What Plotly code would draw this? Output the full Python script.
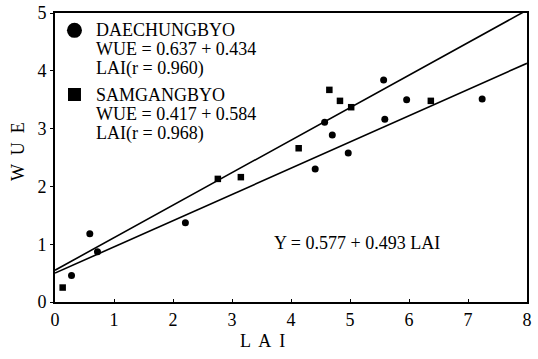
import plotly.graph_objects as go

# Data
dae_lai = [0.28, 0.59, 0.72, 2.21, 4.41, 4.57, 4.70, 4.97, 5.57, 5.59, 5.96, 7.24]
dae_wue = [0.46, 1.18, 0.87, 1.37, 2.30, 3.11, 2.89, 2.58, 3.84, 3.16, 3.50, 3.51]
sam_lai = [0.13, 2.76, 3.15, 4.13, 4.65, 4.83, 5.02, 6.37]
sam_wue = [0.25, 2.13, 2.16, 2.66, 3.67, 3.48, 3.37, 3.48]

line_x = [0, 8]
upper_line_y = [0.55, 5.05]
lower_line_y = [0.50, 4.13]

x_ticks = [0, 1, 2, 3, 4, 5, 6, 7, 8]
y_ticks = [0, 1, 2, 3, 4, 5]

FONT = "Liberation Serif"

fig = go.Figure()
fig.add_trace(go.Scatter(x=line_x, y=upper_line_y, mode="lines",
                         line=dict(color="black", width=1.6), showlegend=False))
fig.add_trace(go.Scatter(x=line_x, y=lower_line_y, mode="lines",
                         line=dict(color="black", width=1.6), showlegend=False))
fig.add_trace(go.Scatter(x=dae_lai, y=dae_wue, mode="markers",
                         marker=dict(symbol="circle", size=7, color="black"),
                         showlegend=False))
fig.add_trace(go.Scatter(x=sam_lai, y=sam_wue, mode="markers",
                         marker=dict(symbol="square", size=6.5, color="black"),
                         showlegend=False))

# legend symbols
fig.add_trace(go.Scatter(x=[0.33], y=[4.70], mode="markers",
                         marker=dict(symbol="circle", size=15, color="black"),
                         showlegend=False))
fig.add_trace(go.Scatter(x=[0.33], y=[3.59], mode="markers",
                         marker=dict(symbol="square", size=13, color="black"),
                         showlegend=False))

legend_lines = [
    ("DAECHUNGBYO", 4.70),
    ("WUE = 0.637 + 0.434", 4.38),
    ("LAI(r = 0.960)", 4.04),
    ("SAMGANGBYO", 3.59),
    ("WUE = 0.417 + 0.584", 3.26),
    ("LAI(r = 0.968)", 2.92),
]
for txt, yv in legend_lines:
    fig.add_annotation(x=0.66, y=yv, text=txt, showarrow=False, xanchor="left",
                       yanchor="middle", font=dict(family=FONT, size=18, color="black"))

fig.add_annotation(x=3.68, y=1.02, text="Y = 0.577 + 0.493 LAI", showarrow=False,
                   xanchor="left", yanchor="middle",
                   font=dict(family=FONT, size=18, color="black"))

fig.add_annotation(x=0.44, y=-0.135, xref="paper", yref="paper", text="L  A  I",
                   showarrow=False, yanchor="middle",
                   font=dict(family=FONT, size=18, color="black"))
fig.add_annotation(x=-0.08, y=0.52, xref="paper", yref="paper", text="W  U  E",
                   showarrow=False, textangle=-90, xanchor="center",
                   font=dict(family=FONT, size=18, color="black"))

fig.update_xaxes(range=[0, 8], tickvals=x_ticks, showgrid=False, zeroline=False,
                 showline=True, linecolor="black", linewidth=2, mirror=True,
                 ticks="inside", ticklen=3, tickcolor="black", automargin=False,
                 tickfont=dict(family=FONT, size=18, color="black"))
fig.update_yaxes(range=[0, 5], tickvals=y_ticks, showgrid=False, zeroline=False,
                 showline=True, linecolor="black", linewidth=2, mirror=True,
                 ticks="outside", ticklen=3, tickcolor="black", automargin=False,
                 tickfont=dict(family=FONT, size=18, color="black"))

fig.update_layout(width=538, height=359, margin=dict(l=55, r=11, t=13, b=57),
                  plot_bgcolor="white", paper_bgcolor="white")

# remove the browser's default 8px body margin so the figure fills the window
fig.write_html("out.html", config={"displayModeBar": False},
               post_script="document.body.style.margin='0';document.body.style.overflow='hidden';")
